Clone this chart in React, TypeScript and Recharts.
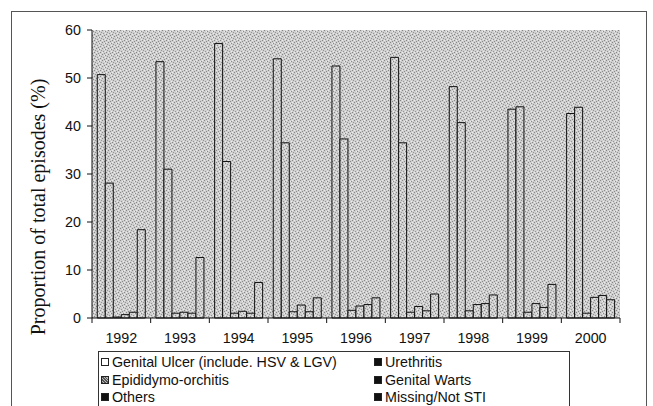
import React from 'react';
import { BarChart, Bar, XAxis, YAxis, CartesianGrid } from 'recharts';

const years = ['1992', '1993', '1994', '1995', '1996', '1997', '1998', '1999', '2000'];
const genitalUlcer = [50.7, 53.4, 57.2, 54.0, 52.5, 54.3, 48.2, 43.5, 42.6];
const urethritis = [28.1, 31.0, 32.6, 36.5, 37.3, 36.5, 40.7, 44.0, 43.9];
const epididymo = [0.2, 1.0, 1.0, 1.3, 1.6, 1.2, 1.5, 1.2, 1.0];
const genitalWarts = [0.7, 1.2, 1.4, 2.7, 2.5, 2.4, 2.8, 3.0, 4.3];
const others = [1.2, 1.0, 1.0, 1.3, 2.8, 1.5, 3.0, 2.2, 4.7];
const missing = [18.4, 12.6, 7.4, 4.2, 4.2, 5.0, 4.8, 7.0, 3.8];
const yTicks = [0, 10, 20, 30, 40, 50, 60];

const seriesKeys = ['gu', 'ur', 'ep', 'gw', 'ot', 'ms'];

const data = years.map((y, i) => ({
  year: y,
  gu: genitalUlcer[i],
  ur: urethritis[i],
  ep: epididymo[i],
  gw: genitalWarts[i],
  ot: others[i],
  ms: missing[i],
}));

const sans = '"Liberation Sans", Arial, sans-serif';

const XTick = (props: any) => {
  const { x, y, payload, index } = props;
  const half = payload && payload.offset != null ? payload.offset : 0;
  const last = index === years.length - 1;
  return (
    <g>
      <line x1={x - half} x2={x - half} y1={y} y2={y + 5} stroke="#111" strokeWidth={1} />
      {last && <line x1={x + half} x2={x + half} y1={y} y2={y + 5} stroke="#111" strokeWidth={1} />}
      <text x={x} y={y + 25} textAnchor="middle" fill="#111" fontSize={14.3} fontFamily={sans}>
        {payload.value}
      </text>
    </g>
  );
};

const legendItems = [
  { label: 'Genital Ulcer (include. HSV & LGV)', col: 0, row: 0, kind: 'white' },
  { label: 'Urethritis', col: 1, row: 0, kind: 'black' },
  { label: 'Epididymo-orchitis', col: 0, row: 1, kind: 'pattern' },
  { label: 'Genital Warts', col: 1, row: 1, kind: 'black' },
  { label: 'Others', col: 0, row: 2, kind: 'black' },
  { label: 'Missing/Not STI', col: 1, row: 2, kind: 'black' },
];

export default function App() {
  return (
    <div style={{ position: 'absolute', left: 0, top: 0, width: 653, height: 406, background: '#fff', overflow: 'hidden' }}>
      <div style={{ position: 'absolute', left: 11, top: 11, width: 636, height: 420, border: '1px solid #555', boxSizing: 'border-box' }} />
      <BarChart
        width={653}
        height={406}
        data={data}
        margin={{ top: 30, right: 33, left: 32, bottom: 58 }}
        barCategoryGap="9%"
        barGap={0}
        style={{ position: 'absolute', left: 0, top: 0 }}
      >
        <defs>
          <pattern id="stip" x="0" y="0" width="6" height="6" patternUnits="userSpaceOnUse">
            <rect x="0" y="0" width="6" height="6" fill="#cfcfcf" />
            <rect x="0" y="0" width="1" height="1" fill="#858585" />
            <rect x="3" y="1" width="1" height="1" fill="#8a8a8a" />
            <rect x="1" y="3" width="1" height="1" fill="#959595" />
            <rect x="4" y="4" width="1" height="1" fill="#858585" />
            <rect x="5" y="2" width="1" height="1" fill="#959595" />
            <rect x="2" y="5" width="1" height="1" fill="#8a8a8a" />
            <rect x="2" y="1" width="1" height="1" fill="#ececec" />
            <rect x="4" y="0" width="1" height="1" fill="#ececec" />
            <rect x="0" y="4" width="1" height="1" fill="#ececec" />
            <rect x="3" y="3" width="1" height="1" fill="#ececec" />
          </pattern>
        </defs>
        <CartesianGrid horizontal={false} vertical={false} fill="url(#stip)" />
        <XAxis
          dataKey="year"
          height={30}
          tickLine={false}
          tickSize={0}
          tickMargin={0}
          axisLine={{ stroke: '#111' }}
          tick={<XTick />}
          interval={0}
        />
        <YAxis
          width={60}
          domain={[0, 60]}
          ticks={yTicks}
          tickSize={5}
          tickMargin={6}
          axisLine={{ stroke: '#111' }}
          tickLine={{ stroke: '#111' }}
          tick={{ fill: '#111', fontSize: 14.3, fontFamily: sans }}
          interval={0}
        />
        {seriesKeys.map((k) => (
          <Bar key={k} dataKey={k} fill="url(#stip)" stroke="#111" strokeWidth={1} isAnimationActive={false} />
        ))}
      </BarChart>
      <div
        style={{
          position: 'absolute',
          left: 38 - 160,
          top: 207 - 14,
          width: 320,
          height: 28,
          lineHeight: '28px',
          textAlign: 'center',
          transform: 'rotate(-90deg)',
          fontFamily: '"Liberation Serif", "Times New Roman", serif',
          fontSize: 20,
          color: '#111',
          whiteSpace: 'nowrap',
        }}
      >
        Proportion of total episodes (%)
      </div>
      <div style={{ position: 'absolute', left: 98, top: 351, width: 472, height: 70, border: '1px solid #333', boxSizing: 'border-box' }} />
      {legendItems.map((it) => {
        const left = it.col === 0 ? 101 : 374;
        const cy = 362 + it.row * 17.5;
        const sq: React.CSSProperties = {
          position: 'absolute',
          left,
          top: cy - 4,
          width: 8,
          height: 8,
          boxSizing: 'border-box',
          border: '1px solid #222',
          background: it.kind === 'white' ? '#fff' : it.kind === 'black' ? '#111' : 'repeating-linear-gradient(45deg, #555 0 1px, #bbb 1px 2px)',
        };
        return (
          <React.Fragment key={it.label}>
            <div style={sq} />
            <div
              style={{
                position: 'absolute',
                left: left + 11,
                top: cy - 8,
                height: 16,
                lineHeight: '16px',
                fontFamily: sans,
                fontSize: 14.3,
                color: '#111',
                whiteSpace: 'nowrap',
              }}
            >
              {it.label}
            </div>
          </React.Fragment>
        );
      })}
    </div>
  );
}
